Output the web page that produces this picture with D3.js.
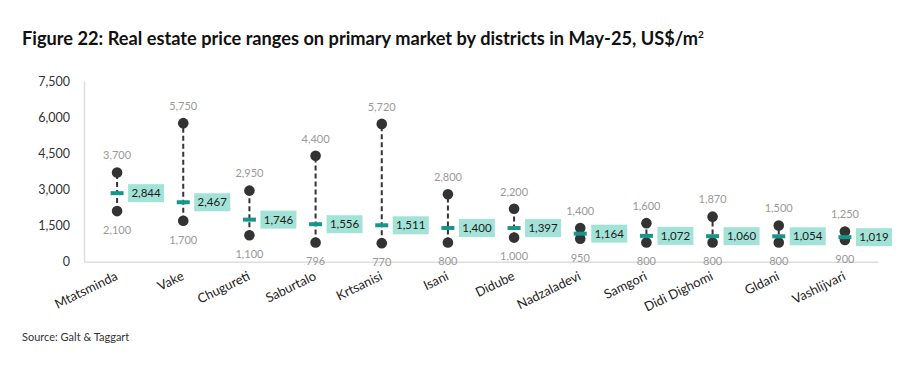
<!DOCTYPE html>
<html>
<head>
<meta charset="utf-8">
<script src="https://cdn.jsdelivr.net/npm/d3@7"></script>
<style>
  body { margin: 0; background: #fff; }
  svg { display: block; font-family: Lato, "Noto Sans", sans-serif; }
</style>
</head>
<body>
<div class="container"></div>
<script>
// Data
const districts = ['Mtatsminda', 'Vake', 'Chugureti', 'Saburtalo', 'Krtsanisi', 'Isani',
    'Didube', 'Nadzaladevi', 'Samgori', 'Didi Dighomi', 'Gldani', 'Vashlijvari']
const minPrice = [2100, 1700, 1100, 796, 770, 800, 1000, 950, 800, 800, 800, 900]
const maxPrice = [3700, 5750, 2950, 4400, 5720, 2800, 2200, 1400, 1600, 1870, 1500, 1250]
const avgPrice = [2844, 2467, 1746, 1556, 1511, 1400, 1397, 1164, 1072, 1060, 1054, 1019]
const yTicks = [0, 1500, 3000, 4500, 6000, 7500]

const width = 898
const height = 377
const margin = {"top": 81, "right": 20, "bottom": 115, "left": 84}

const svg = d3.select('.container')
    .append('svg')
    .attr('width', width)
    .attr('height', height)

const fmt = d3.format(',')

const x = d3.scaleBand()
    .domain(districts)
    .range([margin.left, 878])

const y = d3.scaleLinear()
    .domain([0, 7500])
    .range([height - margin.bottom - 0.3, margin.top])

// Title - sized so it spans the same width as the original
const title = svg.append('text')
    .attr('x', 22)
    .attr('y', 45)
    .attr('font-size', 16)
    .attr('font-weight', 'bold')
    .attr('fill', '#111')
    .text('Figure 22: Real estate price ranges on primary market by districts in May-25, US$/m')
title.append('tspan')
    .attr('font-size', 10)
    .attr('dy', -7)
    .text('2')
const tw = title.node().getComputedTextLength()
title.attr('font-size', 16 * 683 / tw)

// Y axis
const yAxis = svg.append('g')
    .attr('transform', `translate(${margin.left},0)`)
    .call(d3.axisLeft(y).tickValues(yTicks).tickSize(0).tickPadding(14).tickFormat(fmt))
yAxis.select('.domain').attr('stroke', '#ddd').attr('stroke-width', 1.5)
yAxis.selectAll('text').attr('font-size', 12.5).attr('fill', '#333').attr('font-family', 'Lato, sans-serif')

// X axis
const xAxis = svg.append('g')
    .attr('transform', `translate(0,${y(0)})`)
    .call(d3.axisBottom(x).tickSize(0).tickFormat(''))
xAxis.select('.domain').attr('stroke', '#ddd').attr('stroke-width', 1.5)

svg.append('g')
    .selectAll('text')
    .data(districts)
    .join('text')
    .attr('transform', d => `translate(${x(d) + x.bandwidth() / 2 - 3},${y(0) + 8}) rotate(-26)`)
    .attr('text-anchor', 'end')
    .attr('dy', '0.8em')
    .attr('font-size', 13)
    .attr('fill', '#222')
    .text(d => d)

const cx = d => x(d) + x.bandwidth() / 2

// Ranges
const groups = svg.append('g')
    .selectAll('g')
    .data(districts)
    .join('g')

groups.append('line')
    .attr('x1', cx).attr('x2', cx)
    .attr('y1', (d, i) => y(minPrice[i]))
    .attr('y2', (d, i) => y(maxPrice[i]))
    .attr('stroke', '#333')
    .attr('stroke-width', 2)
    .attr('stroke-dasharray', '5,3')

groups.append('circle')
    .attr('cx', cx)
    .attr('cy', (d, i) => y(maxPrice[i]))
    .attr('r', 5.3)
    .attr('fill', '#333')

groups.append('circle')
    .attr('cx', cx)
    .attr('cy', (d, i) => y(minPrice[i]))
    .attr('r', 5.3)
    .attr('fill', '#333')

// average marker
groups.append('rect')
    .attr('x', d => cx(d) - 6.5)
    .attr('y', (d, i) => y(avgPrice[i]) - 2)
    .attr('width', 13)
    .attr('height', 4)
    .attr('fill', '#17978b')

groups.append('rect')
    .attr('x', d => cx(d) + 11)
    .attr('y', (d, i) => y(avgPrice[i]) - 9)
    .attr('width', 36)
    .attr('height', 18)
    .attr('fill', '#a3e3d7')

groups.append('text')
    .attr('x', d => cx(d) + 29)
    .attr('y', (d, i) => y(avgPrice[i]))
    .attr('dy', '0.35em')
    .attr('text-anchor', 'middle')
    .attr('font-size', 11.5)
    .attr('fill', '#1a1a1a')
    .text((d, i) => fmt(avgPrice[i]))

// max / min labels
groups.append('text')
    .attr('x', cx)
    .attr('y', (d, i) => y(maxPrice[i]) - 17)
    .attr('dy', '0.35em')
    .attr('text-anchor', 'middle')
    .attr('font-size', 11)
    .attr('fill', '#999')
    .text((d, i) => fmt(maxPrice[i]))

groups.append('text')
    .attr('x', cx)
    .attr('y', (d, i) => y(minPrice[i]) + 19)
    .attr('dy', '0.35em')
    .attr('text-anchor', 'middle')
    .attr('font-size', 11)
    .attr('fill', '#999')
    .text((d, i) => fmt(minPrice[i]))

// Source
svg.append('text')
    .attr('x', 22)
    .attr('y', 341)
    .attr('font-size', 11)
    .attr('fill', '#333')
    .text('Source: Galt & Taggart')
</script>
</body>
</html>
